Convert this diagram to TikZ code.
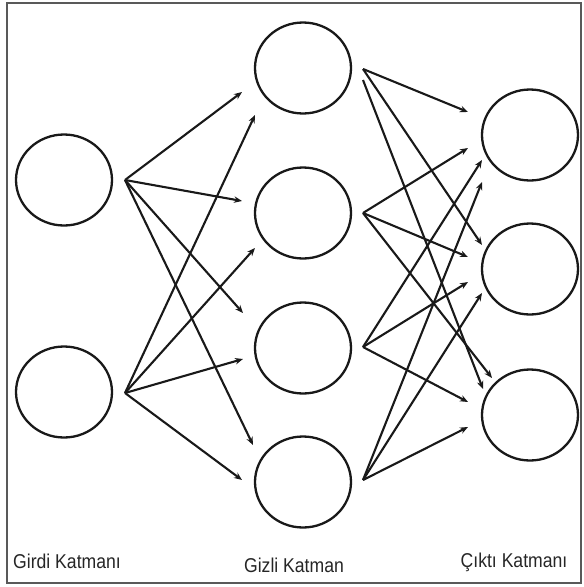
\documentclass[tikz,border=0pt]{standalone}
\usepackage{fontspec}
\setmainfont{Liberation Sans}
\usetikzlibrary{shapes.geometric,arrows.meta}
\newcommand{\narrowtext}[1]{\scalebox{0.88}[1]{\fontsize{20}{22}\selectfont #1}}
\begin{document}
\begin{tikzpicture}[x=1pt,y=-1pt,
  neuron/.style={draw=black!90,line width=2.3pt,ellipse,inner sep=0pt,
    minimum width=96pt,minimum height=91pt},
  link/.style={draw=black!90,line width=2.1pt,-{Stealth[length=8pt,width=6.5pt]}},
  caption/.style={anchor=base,inner sep=0pt,text=black!85}]
\useasboundingbox (0,0) rectangle (584,587);
\draw[line width=1.8pt,draw=black!65] (7,3) rectangle (581,583);

% layers
\node[neuron] (i1) at (64,180) {};
\node[neuron] (i2) at (64,392) {};
\node[neuron] (h1) at (303,68) {};
\node[neuron] (h2) at (303,213) {};
\node[neuron] (h3) at (303,348) {};
\node[neuron] (h4) at (303,482) {};
\node[neuron] (o1) at (530,135) {};
\node[neuron] (o2) at (530,269) {};
\node[neuron] (o3) at (530,415) {};

% fan-out points beside the nodes
\coordinate (i1s) at (125,180);
\coordinate (i2s) at (125,393);
\coordinate (h1s) at (363,69);
\coordinate (h1t) at (363,80);
\coordinate (h2s) at (363,213);
\coordinate (h3s) at (363,347);
\coordinate (h4s) at (363,480);

% arrow heads in front of the hidden layer
\coordinate (h1a) at (242,92);  \coordinate (h1b) at (255,115);
\coordinate (h2a) at (242,201); \coordinate (h2b) at (255,248);
\coordinate (h3a) at (243,313); \coordinate (h3b) at (243,359);
\coordinate (h4a) at (253,445); \coordinate (h4b) at (242,480);

% arrow heads in front of the output layer
\coordinate (o1a) at (468,112); \coordinate (o1b) at (468,148);
\coordinate (o1c) at (482,160); \coordinate (o1d) at (482,182);
\coordinate (o2a) at (482,245); \coordinate (o2b) at (468,257);
\coordinate (o2c) at (468,282); \coordinate (o2d) at (482,293);
\coordinate (o3a) at (483,389); \coordinate (o3b) at (492,378);
\coordinate (o3c) at (468,402); \coordinate (o3d) at (468,427);

% input -> hidden
\draw[link] (i1s) -- (h1a);
\draw[link] (i1s) -- (h2a);
\draw[link] (i1s) -- (h3a);
\draw[link] (i1s) -- (h4a);
\draw[link] (i2s) -- (h1b);
\draw[link] (i2s) -- (h2b);
\draw[link] (i2s) -- (h3b);
\draw[link] (i2s) -- (h4b);

% hidden -> output
\draw[link] (h1s) -- (o1a);
\draw[link] (h1s) -- (o2a);
\draw[link] (h1t) -- (o3a);
\draw[link] (h2s) -- (o1b);
\draw[link] (h2s) -- (o2b);
\draw[link] (h2s) -- (o3b);
\draw[link] (h3s) -- (o1c);
\draw[link] (h3s) -- (o2c);
\draw[link] (h3s) -- (o3c);
\draw[link] (h4s) -- (o1d);
\draw[link] (h4s) -- (o2d);
\draw[link] (h4s) -- (o3d);

% layer captions
\node[caption] (ci) at (67,568) {\narrowtext{Girdi Katmanı}};
\node[caption] (ch) at (294,572) {\narrowtext{Gizli Katman}};
\node[caption] (co) at (514,567) {\narrowtext{Çıktı Katmanı}};
\end{tikzpicture}
\end{document}
